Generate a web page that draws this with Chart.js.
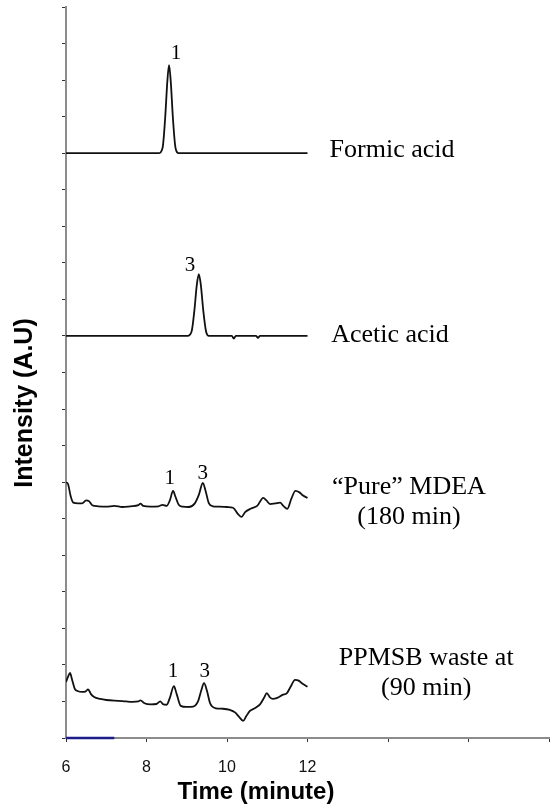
<!DOCTYPE html>
<html>
<head>
<meta charset="utf-8">
<script src="https://cdn.jsdelivr.net/npm/chart.js@4.4.1/dist/chart.umd.min.js"></script>
<style>
  html, body { margin: 0; padding: 0; background: #fff; }
  #wrap { width: 552px; height: 807px; }
</style>
</head>
<body>
<div id="wrap"><canvas id="chromChart" width="552" height="807"></canvas></div>
<script>
// --- Traces (time in minutes, stacked intensity in A.U) ---
const formicTime      = [6, 8.3, 8.4, 8.46, 8.52, 8.56, 8.6, 8.66, 8.72, 8.8, 12];
const formicIntensity = [16, 16, 16.15, 16.9, 18.0, 18.41, 18.0, 16.9, 16.15, 16, 16];

const aceticTime      = [6, 9.02, 9.12, 9.19, 9.25, 9.3, 9.35, 9.41, 9.48, 9.55, 10.12, 10.17, 10.22, 10.72, 10.77, 10.82, 12];
const aceticIntensity = [11, 11, 11.12, 11.7, 12.4, 12.69, 12.4, 11.7, 11.12, 11, 11, 10.93, 11, 11, 10.95, 11, 11];

const mdeaTime = [6.0, 6.05, 6.12, 6.18, 6.3, 6.4, 6.5, 6.57, 6.65, 6.8, 7.0, 7.2, 7.4, 7.6, 7.8, 7.85, 7.92, 8.1, 8.3, 8.4,
                  8.5, 8.58, 8.66, 8.72, 8.8, 8.9, 9.05, 9.2, 9.3, 9.4, 9.47, 9.55, 9.65, 9.8, 10.0, 10.15, 10.28, 10.36,
                  10.45, 10.6, 10.75, 10.9, 10.98, 11.07, 11.2, 11.32, 11.4, 11.5, 11.6, 11.7, 11.8, 11.88, 12.0];
const mdeaIntensity = [7.0, 6.95, 6.6, 6.44, 6.42, 6.42, 6.5, 6.48, 6.37, 6.34, 6.33, 6.35, 6.32, 6.34, 6.37, 6.41, 6.35, 6.33, 6.34, 6.38,
                       6.35, 6.5, 6.76, 6.6, 6.38, 6.33, 6.32, 6.42, 6.65, 6.98, 6.75, 6.42, 6.34, 6.33, 6.32, 6.3, 6.12, 6.05,
                       6.18, 6.28, 6.35, 6.57, 6.5, 6.4, 6.42, 6.44, 6.35, 6.27, 6.55, 6.76, 6.72, 6.64, 6.57];

const wasteTime = [6.0, 6.06, 6.1, 6.15, 6.22, 6.3, 6.4, 6.48, 6.55, 6.62, 6.7, 6.85, 7.0, 7.2, 7.4, 7.5, 7.65, 7.8, 7.85, 7.95,
                   8.1, 8.25, 8.34, 8.42, 8.5, 8.58, 8.68, 8.75, 8.85, 9.0, 9.16, 9.28, 9.36, 9.43, 9.5, 9.58, 9.7, 9.9,
                   10.07, 10.2, 10.3, 10.4, 10.48, 10.57, 10.7, 10.82, 10.92, 10.99, 11.06, 11.14, 11.25, 11.38, 11.49,
                   11.58, 11.69, 11.78, 11.86, 11.93, 12.0];
const wasteIntensity = [1.53, 1.7, 1.78, 1.6, 1.34, 1.28, 1.26, 1.27, 1.33, 1.2, 1.12, 1.07, 1.04, 1.02, 1.01, 1.0, 0.99, 1.0, 1.03, 0.95,
                        0.92, 0.93, 1.0, 0.92, 0.91, 1.1, 1.42, 1.2, 0.88, 0.85, 0.86, 1.0, 1.3, 1.5, 1.3, 0.95, 0.82, 0.8,
                        0.77, 0.7, 0.58, 0.47, 0.6, 0.74, 0.82, 0.92, 1.1, 1.23, 1.12, 1.07, 1.1, 1.18, 1.23,
                        1.4, 1.59, 1.57, 1.5, 1.45, 1.4];

// short blue stroke lying on the time axis
const axisMarkTime = [6, 7.2];
const axisMarkValue = [0, 0];

// --- Series names and peak numbers (placed in data units) ---
const seriesNames = [["Formic acid"], ["Acetic acid"], ["\u201CPure\u201D MDEA", "(180 min)"], ["PPMSB waste at", "(90 min)"]];
const seriesNameX = [14.1, 14.05, 14.52, 14.95];
const seriesNameY = [16.09, 11.03, 6.87, 2.19];

const peakLabels = ["1", "3", "1", "3", "1", "3"];
const peakLabelX = [8.73, 9.08, 8.58, 9.4, 8.66, 9.45];
const peakLabelY = [18.74, 12.94, 7.11, 7.25, 1.81, 1.81];

// --- Axis ---
const timeMin = 6, timeMax = 18, timeStep = 2, lastLabelledTime = 12;
const intensityMin = 0, intensityMax = 20;

const toPoints = (xs, ys) => xs.map((x, i) => ({ x: x, y: ys[i] }));

const traceStyle = {
    borderColor: '#111', borderWidth: 1.8, pointRadius: 0, fill: false,
    cubicInterpolationMode: 'monotone'
};

const textPlugin = {
    id: 'textPlugin',
    afterDatasetsDraw(chart) {
        const { ctx, scales: { x, y } } = chart;
        ctx.save();
        ctx.fillStyle = '#000';
        ctx.textAlign = 'center';
        ctx.textBaseline = 'middle';

        // series names
        ctx.font = '26px "Liberation Serif", "Times New Roman", serif';
        seriesNames.forEach((lines, i) => {
            const px = x.getPixelForValue(seriesNameX[i]);
            const py = y.getPixelForValue(seriesNameY[i]);
            lines.forEach((line, j) => ctx.fillText(line, px, py + j * 30));
        });

        // peak numbers
        ctx.font = '21px "Liberation Serif", "Times New Roman", serif';
        peakLabels.forEach((lab, i) => {
            ctx.fillText(lab, x.getPixelForValue(peakLabelX[i]), y.getPixelForValue(peakLabelY[i]));
        });

        // axis titles
        ctx.font = 'bold 24px "Liberation Sans", Arial, sans-serif';
        ctx.fillText('Time (minute)', 256, 792);
        ctx.translate(25, 403);
        ctx.rotate(-Math.PI / 2);
        ctx.font = 'bold 25px "Liberation Sans", Arial, sans-serif';
        ctx.fillText('Intensity (A.U)', 0, 0);
        ctx.restore();
    }
};

const canvas = document.getElementById('chromChart');
new Chart(canvas, {
    type: 'line',
    data: {
        datasets: [
            { ...traceStyle, data: toPoints(formicTime, formicIntensity) },
            { ...traceStyle, data: toPoints(aceticTime, aceticIntensity) },
            { ...traceStyle, data: toPoints(mdeaTime, mdeaIntensity) },
            { ...traceStyle, data: toPoints(wasteTime, wasteIntensity) },
            { data: toPoints(axisMarkTime, axisMarkValue), borderColor: '#1c1c8a', borderWidth: 2.5,
              pointRadius: 0, clip: false }
        ]
    },
    options: {
        responsive: false,
        animation: false,
        layout: { padding: { top: 7, right: 3, left: 0, bottom: 0 } },
        plugins: { legend: { display: false }, tooltip: { enabled: false } },
        scales: {
            x: {
                type: 'linear', min: timeMin, max: timeMax,
                border: { color: '#8c8c8c', width: 2 },
                grid: { drawOnChartArea: false, color: '#333', tickLength: 4 },
                ticks: {
                    stepSize: timeStep, autoSkip: false, maxRotation: 0, padding: 16,
                    color: '#111', font: { size: 16, family: '"Liberation Sans", Arial, sans-serif' },
                    callback: v => (v <= lastLabelledTime ? String(v) : '')
                },
                afterFit: s => { s.height = 69; s.paddingLeft = 0; s.paddingRight = 0; }
            },
            y: {
                type: 'linear', min: intensityMin, max: intensityMax,
                border: { color: '#8c8c8c', width: 2 },
                grid: { drawOnChartArea: false, color: '#333', tickLength: 4 },
                ticks: { stepSize: 1, display: false },
                afterFit: s => { s.width = 66; s.paddingTop = 0; s.paddingBottom = 0; }
            }
        }
    },
    plugins: [textPlugin]
});
</script>
</body>
</html>
